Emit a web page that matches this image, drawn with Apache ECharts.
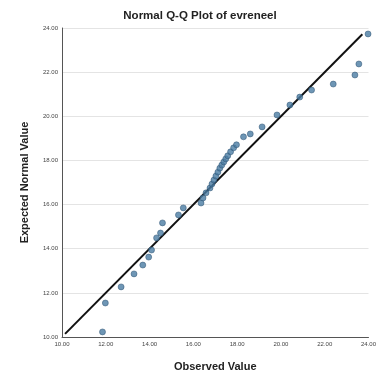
<!DOCTYPE html>
<html>
<head>
<meta charset="utf-8">
<script src="https://cdn.jsdelivr.net/npm/echarts@6/dist/echarts.min.js"></script>
<style>
  html, body { margin: 0; padding: 0; background: #fff; }
  #chart { width: 379px; height: 379px; }
</style>
</head>
<body>
<div id="chart"></div>
<script>
// Observed values and their expected normal quantiles
const observed = [11.85, 11.98, 12.70, 13.29, 13.69, 13.96, 14.09, 14.32, 14.50, 14.59,
  15.32, 15.54, 16.35, 16.44, 16.58, 16.76, 16.85, 16.94, 17.03, 17.12,
  17.21, 17.30, 17.39, 17.48, 17.57, 17.70, 17.84, 17.97, 18.29, 18.60,
  19.14, 19.82, 20.41, 20.86, 21.40, 22.39, 23.38, 23.56, 23.98];
const expected = [10.23, 11.54, 12.27, 12.86, 13.26, 13.62, 13.94, 14.49, 14.71, 15.17,
  15.53, 15.85, 16.07, 16.30, 16.53, 16.75, 16.93, 17.11, 17.29, 17.47,
  17.65, 17.79, 17.93, 18.07, 18.21, 18.39, 18.57, 18.71, 19.07, 19.20,
  19.52, 20.06, 20.51, 20.87, 21.19, 21.46, 21.87, 22.37, 23.73];
// Reference line y = x, drawn between these values
const refLine = [10.14, 23.72];
// Tick values shared by both axes
const ticks = [10, 12, 14, 16, 18, 20, 22, 24];

const points = observed.map((v, i) => [v, expected[i]]);
const chart = echarts.init(document.getElementById('chart'));
const font = 'Liberation Sans, Arial, sans-serif';

function axis(name, gap, isY) {
  return {
    type: 'value',
    min: ticks[0],
    max: ticks[ticks.length - 1],
    interval: ticks[1] - ticks[0],
    name: name,
    nameLocation: 'middle',
    nameGap: gap,
    nameTextStyle: { fontFamily: font, fontSize: 11, fontWeight: 'bold', color: '#222' },
    axisLine: { show: true, lineStyle: { color: '#555', width: 1 } },
    axisTick: { show: false },
    axisLabel: {
      fontFamily: font, fontSize: 6, color: '#444', margin: 4,
      formatter: v => v.toFixed(2)
    },
    splitLine: { show: isY, lineStyle: { color: '#e4e4e4', width: 1 } }
  };
}

chart.setOption({
  animation: false,
  backgroundColor: '#fff',
  title: {
    text: 'Normal Q-Q Plot of evreneel',
    left: 195, top: 5, textAlign: 'center',
    textStyle: { fontFamily: font, fontSize: 11.5, fontWeight: 'bold', color: '#222' }
  },
  grid: { left: 62, right: 6, top: 28, bottom: 42 },
  xAxis: axis('Observed Value', 24, false),
  yAxis: axis('Expected Normal Value', 32, true),
  series: [
    {
      type: 'line',
      data: [[refLine[0], refLine[0]], [refLine[1], refLine[1]]],
      symbol: 'none',
      lineStyle: { color: '#111', width: 2 },
      z: 2
    },
    {
      type: 'scatter',
      data: points,
      symbolSize: 6,
      itemStyle: { color: '#4a7ca3', borderColor: '#2b4f6e', borderWidth: 0.6 },
      z: 3
    }
  ]
});
</script>
</body>
</html>
